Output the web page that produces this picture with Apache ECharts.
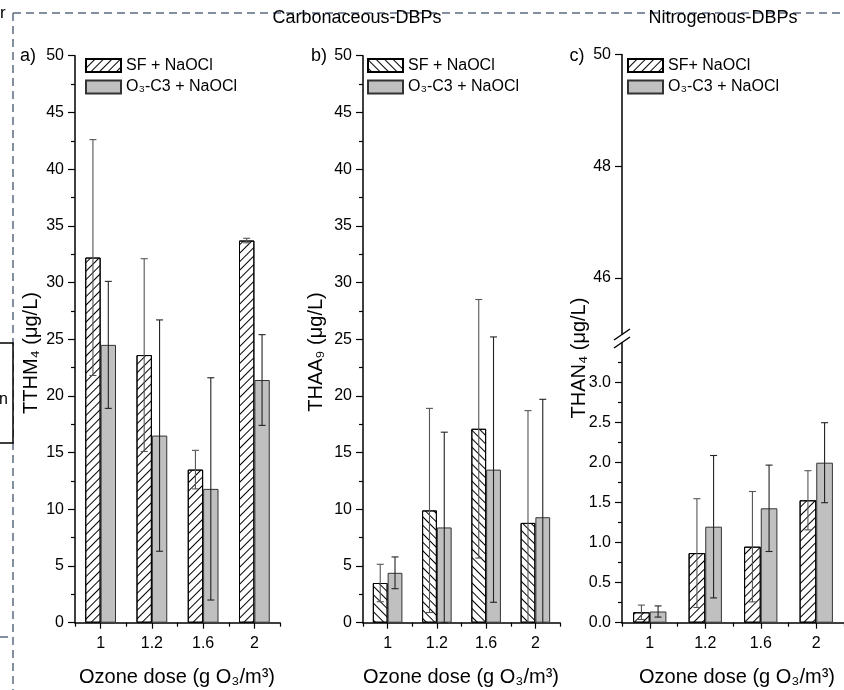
<!DOCTYPE html>
<html>
<head>
<meta charset="utf-8">
<script src="https://cdn.jsdelivr.net/npm/echarts@6/dist/echarts.min.js"></script>
<style>
  html, body { margin: 0; padding: 0; background: #fff; }
  #chart { width: 844px; height: 690px; }
</style>
</head>
<body>
<div id="chart"></div>
<script>
// ozone dose categories
const categories = ['1', '1.2', '1.6', '2'];

// a) TTHM4
const tthmSF = [32.2, 23.6, 13.5, 33.7];
const tthmSFErr = [10.4, 8.5, 1.7, 0.2];
const tthmO3 = [24.5, 16.5, 11.8, 21.4];
const tthmO3Err = [5.6, 10.2, 9.8, 4.0];

// b) THAA
const thaaSF = [3.5, 9.9, 17.1, 8.8];
const thaaSFErr = [1.65, 9.0, 11.4, 9.9];
const thaaO3 = [4.4, 8.4, 13.5, 9.3];
const thaaO3Err = [1.4, 8.4, 11.7, 10.4];

// c) THAN4
const thanSF = [0.13, 0.87, 0.95, 1.53];
const thanSFErr = [0.09, 0.68, 0.69, 0.37];
const thanO3 = [0.14, 1.2, 1.43, 2.0];
const thanO3Err = [0.07, 0.89, 0.54, 0.5];

const thanLowTicks = [0, 0.5, 1.0, 1.5, 2.0, 2.5, 3.0];
const thanHighTicks = [46, 48, 50];
const thanHighMinor = [47, 49];

const FONT = 'Liberation Sans, Arial, sans-serif';
const GREY = '#c0c0c0';

const chart = echarts.init(document.getElementById('chart'));

const hatchFwd = { symbol: 'rect', symbolSize: 1, color: '#000', dashArrayX: [1, 0], dashArrayY: [1, 5], rotation: -Math.PI / 4 };
const hatchBack = { symbol: 'rect', symbolSize: 1, color: '#000', dashArrayX: [1, 0], dashArrayY: [1, 5], rotation: Math.PI / 4 };

function errRender(shift, color, yMin) {
    return function (params, api) {
        const i = api.value(0), m = api.value(1), e = api.value(2);
        const band = api.size([1, 0])[0];
        const x = api.coord([i, m])[0] + shift * band;
        const hi = api.coord([i, m + e])[1];
        const lo = api.coord([i, Math.max(m - e, yMin)])[1];
        const st = { stroke: color, lineWidth: 1.1 };
        const kids = [
            { type: 'line', shape: { x1: x, y1: hi, x2: x, y2: lo }, style: st },
            { type: 'line', shape: { x1: x - 3.5, y1: hi, x2: x + 3.5, y2: hi }, style: st }
        ];
        if (m - e >= yMin) {
            kids.push({ type: 'line', shape: { x1: x - 3.5, y1: lo, x2: x + 3.5, y2: lo }, style: st });
        }
        return { type: 'group', children: kids };
    };
}

function barSeries(name, data, xi, yi, decal) {
    return {
        type: 'bar', name: name, xAxisIndex: xi, yAxisIndex: yi, data: data,
        barWidth: '30%', barGap: '0%',
        itemStyle: decal
            ? { color: '#fff', borderColor: '#000', borderWidth: 1, decal: decal }
            : { color: GREY, borderColor: '#333', borderWidth: 1 }
    };
}

function errSeries(vals, errs, xi, yi, shift, color, yMin) {
    return {
        type: 'custom', xAxisIndex: xi, yAxisIndex: yi, z: 5, silent: true,
        encode: { x: 0, y: 1 },
        renderItem: errRender(shift, color, yMin),
        data: vals.map((v, i) => [i, v, errs[i]])
    };
}

function catAxis(grid, main) {
    return {
        type: 'category', gridIndex: grid, data: categories, position: 'bottom',
        axisLine: { show: main, lineStyle: { color: '#000', width: 1.5 } },
        axisTick: { show: true, inside: false, alignWithLabel: !main, interval: 0, length: main ? 4 : 6, lineStyle: { color: '#000', width: 1.2 } },
        axisLabel: { show: main, color: '#000', fontSize: 16, fontFamily: FONT, margin: 13 },
        splitLine: { show: false }
    };
}

function valAxis(grid, min, max, interval, labelVals, fmt) {
    const ax = {
        type: 'value', gridIndex: grid, min: min, max: max, interval: interval,
        axisLine: { show: true, lineStyle: { color: '#000', width: 1.5 } },
        axisTick: { show: true, length: 7, lineStyle: { color: '#000', width: 1.2 } },
        minorTick: { show: true, splitNumber: 2, length: 4, lineStyle: { color: '#000', width: 1.2 } },
        axisLabel: { color: '#000', fontSize: 16, fontFamily: FONT, margin: 11 },
        splitLine: { show: false }
    };
    if (labelVals) {
        ax.axisLabel.customValues = labelVals;
        ax.axisTick.customValues = labelVals;
    }
    if (fmt) ax.axisLabel.formatter = fmt;
    return ax;
}

const S1a = 'SF + NaOCl', S2a = 'O3-C3 + NaOCl';
const S1b = 'SF + NaOCl\u200b', S2b = 'O3-C3 + NaOCl\u200b';
const S1c = 'SF+ NaOCl', S2c = 'O3-C3 + NaOCl\u200b\u200b';

function legendFmt(name) {
    return name.replace(/\u200b/g, '').replace('O3-', 'O\u2083-');
}

function legendAt(left, names) {
    return {
        left: left, top: 56.5, orient: 'vertical', data: names, padding: 0,
        icon: 'rect', itemWidth: 35, itemHeight: 13, itemGap: 3.5,
        formatter: legendFmt, selectedMode: false,
        textStyle: { color: '#000', fontSize: 16, fontFamily: FONT, lineHeight: 18 }
    };
}

function txt(x, y, s, size, rot) {
    return {
        type: 'text', x: x, y: y, rotation: rot || 0, silent: true,
        style: { text: s, fill: '#000', font: size + 'px ' + FONT, textAlign: 'center', textVerticalAlign: 'middle' }
    };
}

const dash = { stroke: '#5b6b80', lineWidth: 1.5, lineDash: [8, 5] };

const option = {
    animation: false,
    backgroundColor: '#fff',
    grid: [
        { left: 75, top: 55.7, width: 205, height: 567 },
        { left: 363, top: 55.7, width: 197, height: 567 },
        { left: 622, top: 54.6, width: 222, height: 279 },
        { left: 622, top: 342.7, width: 222, height: 280 }
    ],
    xAxis: [
        catAxis(0, true), catAxis(0, false),
        catAxis(1, true), catAxis(1, false),
        { type: 'category', gridIndex: 2, data: categories, show: false },
        catAxis(3, true), catAxis(3, false)
    ],
    yAxis: [
        valAxis(0, 0, 50, 5),
        valAxis(1, 0, 50, 5),
        Object.assign(valAxis(2, 45, 50, 1, thanHighTicks), { minorTick: { show: false } }),
        {
            type: 'value', gridIndex: 2, min: 45, max: 50, interval: 1,
            axisLine: { show: false }, axisLabel: { show: false }, splitLine: { show: false },
            axisTick: { show: true, length: 4, customValues: thanHighMinor, lineStyle: { color: '#000', width: 1.2 } }
        },
        valAxis(3, 0, 3.5, 0.5, thanLowTicks, v => v.toFixed(1))
    ],
    legend: [
        legendAt(85, [S1a, S2a]),
        legendAt(367, [S1b, S2b]),
        legendAt(627, [S1c, S2c])
    ],
    series: [
        barSeries(S1a, tthmSF, 0, 0, hatchFwd),
        barSeries(S2a, tthmO3, 0, 0, null),
        errSeries(tthmSF, tthmSFErr, 0, 0, -0.15, '#555', 0),
        errSeries(tthmO3, tthmO3Err, 0, 0, 0.15, '#222', 0),

        barSeries(S1b, thaaSF, 2, 1, hatchBack),
        barSeries(S2b, thaaO3, 2, 1, null),
        errSeries(thaaSF, thaaSFErr, 2, 1, -0.15, '#555', 0),
        errSeries(thaaO3, thaaO3Err, 2, 1, 0.15, '#222', 0),

        barSeries(S1c, thanSF, 5, 4, hatchFwd),
        barSeries(S2c, thanO3, 5, 4, null),
        errSeries(thanSF, thanSFErr, 5, 4, -0.15, '#555', 0),
        errSeries(thanO3, thanO3Err, 5, 4, 0.15, '#222', 0)
    ],
    graphic: [
        // dashed frame and cut-off bits on the left edge
        { type: 'line', silent: true, shape: { x1: 13, y1: 13, x2: 844, y2: 13 }, style: dash },
        { type: 'line', silent: true, shape: { x1: 13, y1: 13, x2: 13, y2: 690 }, style: dash },
        { type: 'line', silent: true, shape: { x1: 0, y1: 637, x2: 9, y2: 637 }, style: dash },
        { type: 'rect', silent: true, shape: { x: -2, y: 343, width: 15, height: 100 }, style: { fill: '#fff', stroke: '#000', lineWidth: 1.5 } },
        { type: 'text', silent: true, x: -1, y: 392, style: { text: 'n', fill: '#000', font: '16px ' + FONT } },
        { type: 'text', silent: true, x: 0, y: 5, style: { text: 'r', fill: '#000', font: '17px ' + FONT } },

        txt(357, 18, 'Carbonaceous-DBPs', 18),
        txt(723, 18, 'Nitrogenous-DBPs', 18),

        txt(28, 56, 'a)', 18),
        txt(319, 56, 'b)', 18),
        txt(577, 56, 'c)', 18),

        txt(31, 353, 'TTHM\u2084 (\u03bcg/L)', 20, Math.PI / 2),
        txt(316, 352, 'THAA\u2089 (\u03bcg/L)', 20, Math.PI / 2),
        txt(579, 358, 'THAN\u2084 (\u03bcg/L)', 20, Math.PI / 2),

        txt(177, 677, 'Ozone dose (g O\u2083/m\u00b3)', 20),
        txt(461, 677, 'Ozone dose (g O\u2083/m\u00b3)', 20),
        txt(737, 677, 'Ozone dose (g O\u2083/m\u00b3)', 20),

        // axis break marks on panel c
        { type: 'line', silent: true, shape: { x1: 614, y1: 340, x2: 630, y2: 329 }, style: { stroke: '#000', lineWidth: 1.5 } },
        { type: 'line', silent: true, shape: { x1: 614, y1: 348, x2: 630, y2: 337 }, style: { stroke: '#000', lineWidth: 1.5 } }
    ]
};

chart.setOption(option);
</script>
</body>
</html>
